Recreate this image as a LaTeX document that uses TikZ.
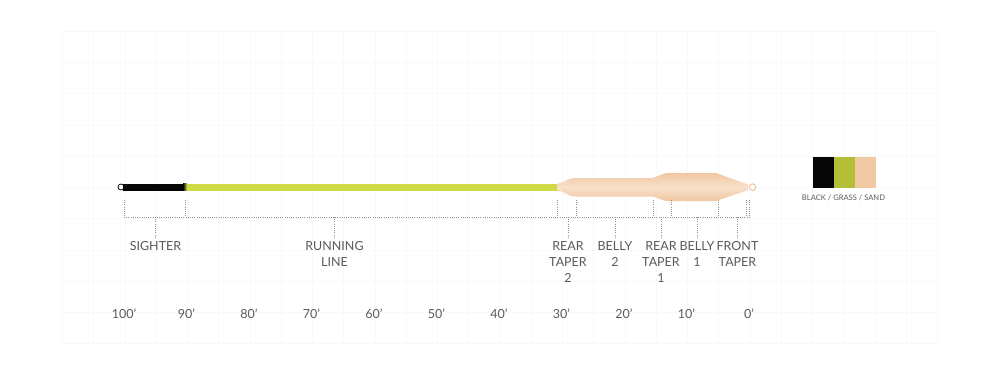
\documentclass[tikz,border=0pt]{standalone}
\usepackage{fontspec}
\setmainfont{Lato}
\definecolor{txt}{HTML}{5A5A5A}
\definecolor{dotc}{HTML}{939393}
\definecolor{grass}{HTML}{CFD944}
\definecolor{grassL}{HTML}{B4BE36}
\definecolor{sandD}{HTML}{F0C7A1}
\definecolor{sandL}{HTML}{F8E0CA}
\definecolor{legsand}{HTML}{F0C9A3}
\definecolor{blk}{HTML}{060606}
\begin{document}
\begin{tikzpicture}[x=1pt,y=-1pt,
  lbl/.style={anchor=north,inner sep=0pt,align=center,text=txt,font={\fontsize{12.5}{16}\selectfont}},
  tick/.style={anchor=base,inner sep=0pt,text=txt,font={\fontsize{12.5}{16}\selectfont}},
  dotline/.style={draw=dotc,line width=0.8pt,dash pattern=on 0.9pt off 1.3pt},
  gridline/.style={draw=black!2.2,line width=0.6pt}]
\useasboundingbox (0,0) rectangle (1000,375);
\fill[white] (0,0) rectangle (1000,375);
% faint background grid
\foreach \i in {0,...,28} {\draw[gridline] (62.5+31.25*\i,31) -- (62.5+31.25*\i,344);}
\foreach \j in {0,...,10} {\draw[gridline] (62.5,31.25+31.25*\j) -- (937.5,31.25+31.25*\j);}
% line
\draw[blk,line width=0.8pt,fill=white] (121,187) circle (3);
\fill[grass] (184,183.8) rectangle (562,190.6);
\shade[left color=blk,right color=grass] (183,183.8) rectangle (187,190.6);
\fill[blk] (123,183.8) rectangle (184,190.6);
% head
\draw[sandD,line width=1pt,fill=white] (752.5,187.2) circle (3.3);
\shade[top color=sandD,bottom color=sandD,middle color=sandL]
  (557,183.8) .. controls (565,182.5) and (567,178) .. (576,178)
  -- (650,178) .. controls (658,178) and (660,173) .. (669,173)
  -- (716,173) -- (748,184.5) -- (748,190) -- (716,201)
  -- (669,201) .. controls (660,201) and (658,196.5) .. (650,196.5)
  -- (576,196.5) .. controls (567,196.5) and (565,191) .. (557,190.6) -- cycle;
% dimension lines
\coordinate (hl) at (124,217);
\coordinate (hr) at (749,217);
\draw[dotline] (hl) -- (hr);
\foreach \x in {124,185,557,576,653,671,718,746.5,749} {\draw[dotline] (\x,200) -- (\x,217);}
% labels
\node[lbl] (sighter) at (155.5,241.5) {SIGHTER};
\node[lbl] (running) at (334.5,241.5) {RUNNING\\LINE};
\node[lbl] (rt2) at (568,241.5) {REAR\\TAPER\\2};
\node[lbl] (b2) at (615,241.5) {BELLY\\2};
\node[lbl] (rt1) at (661,241.5) {REAR\\TAPER\\1};
\node[lbl] (b1) at (697,241.5) {BELLY\\1};
\node[lbl] (ft) at (737.5,241.5) {FRONT\\TAPER};
\foreach \n in {sighter,running,rt2,b2,rt1,b1,ft} {\draw[dotline] (\n.north |- hl) -- ([yshift=3.5pt]\n.north);}
% scale
\foreach \v [count=\k from 0] in {100,90,80,70,60,50,40,30,20,10,0} {
  \node[tick] (t\v) at (124+62.5*\k,318.5) {\v’};}
% legend
\fill[blk] (813,157) rectangle (834.5,188);
\fill[grassL] (834,157) rectangle (855.5,188);
\fill[legsand] (855,157) rectangle (876,188);
\node[anchor=base,inner sep=0pt,text=txt,font={\fontsize{7.6}{9}\selectfont}] (leg) at (843.5,200.5) {BLACK / GRASS / SAND};
\end{tikzpicture}
\end{document}
